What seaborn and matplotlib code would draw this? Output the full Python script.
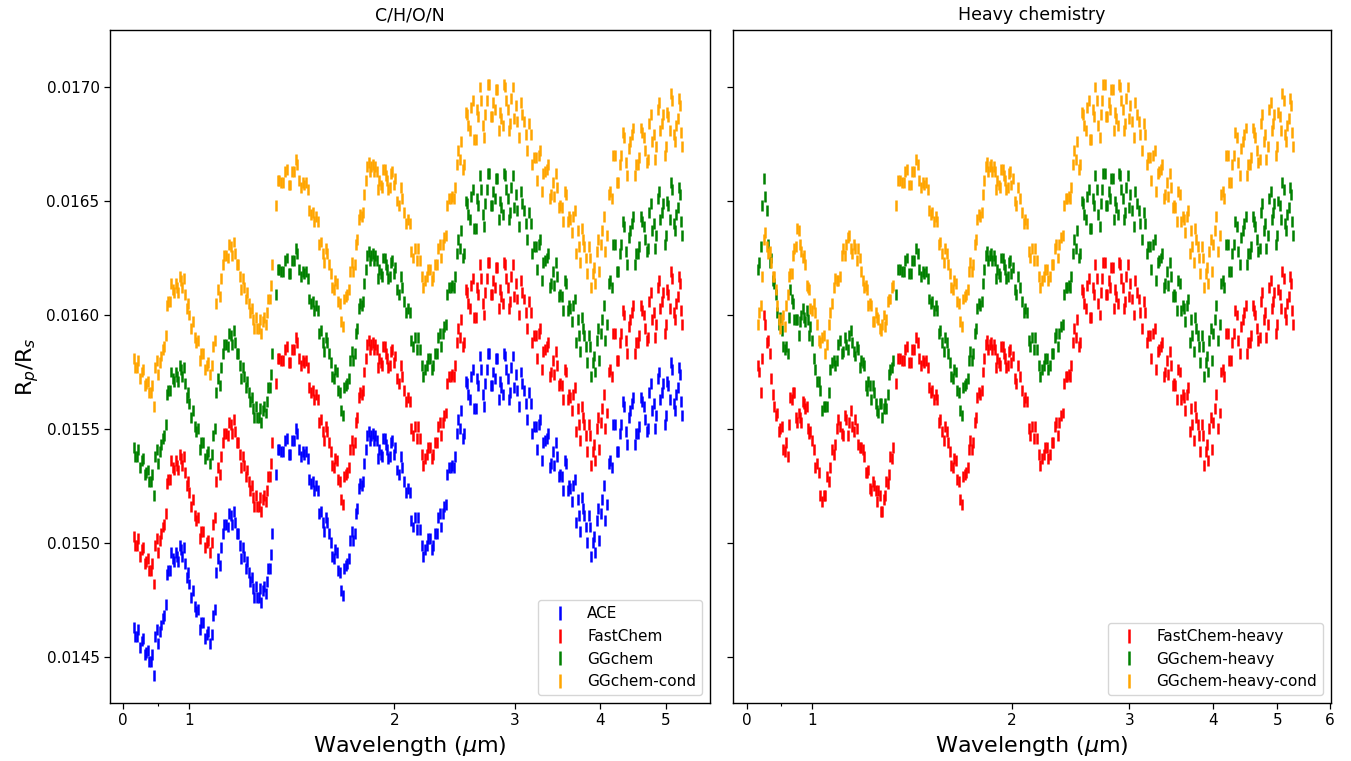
import matplotlib
matplotlib.use("Agg")
import matplotlib.pyplot as plt
import pandas as pd
import seaborn as sns
from matplotlib.ticker import FixedLocator, NullFormatter

# ---------------- data ----------------
# two interleaved wavelength samplings of the spectra (um)
wavelength = [
    0.830, 0.839, 0.848, 0.857, 0.866, 0.875, 0.884, 0.893, 0.902, 0.911,
    0.920, 0.929, 0.938, 0.947, 0.956, 0.965, 0.974, 0.983, 0.992,
    1.001, 1.013, 1.025, 1.037, 1.049, 1.061, 1.073, 1.085, 1.097, 1.109,
    1.121, 1.133, 1.145, 1.157, 1.169, 1.181, 1.193, 1.205, 1.217, 1.229,
    1.241, 1.253, 1.265, 1.277, 1.289, 1.301, 1.313, 1.325,
    1.340, 1.357, 1.374, 1.391, 1.408, 1.425, 1.442, 1.459, 1.476, 1.493,
    1.510, 1.527, 1.544, 1.561, 1.578, 1.595, 1.612, 1.629, 1.646, 1.663,
    1.680, 1.697, 1.714, 1.731, 1.748, 1.765, 1.782, 1.799, 1.816, 1.833,
    1.850, 1.867, 1.884, 1.901, 1.918, 1.935, 1.952, 1.969, 1.986,
    2.005, 2.030, 2.055, 2.080, 2.105, 2.130, 2.155, 2.180, 2.205, 2.230,
    2.255, 2.280, 2.305, 2.330, 2.355, 2.380, 2.405, 2.430, 2.455, 2.480,
    2.505, 2.530, 2.555, 2.580, 2.605, 2.630, 2.655, 2.680, 2.705, 2.730,
    2.755, 2.780, 2.805, 2.830, 2.855, 2.880, 2.905, 2.930, 2.955, 2.980,
    3.010, 3.045, 3.080, 3.115, 3.150, 3.185, 3.220, 3.255, 3.290, 3.325,
    3.360, 3.395, 3.430, 3.465, 3.500, 3.535, 3.570, 3.605, 3.640, 3.675,
    3.710, 3.745, 3.780, 3.815, 3.850, 3.885, 3.920, 3.955, 3.990,
    4.030, 4.075, 4.120, 4.165, 4.210, 4.255, 4.300, 4.345, 4.390, 4.435,
    4.480, 4.525, 4.570, 4.615, 4.660, 4.705, 4.750, 4.795, 4.840, 4.885,
    4.930, 4.975, 5.020, 5.065, 5.110, 5.155, 5.200, 5.245, 5.280,
]
wavelength_b = [
    0.834, 0.843, 0.852, 0.861, 0.870, 0.879, 0.888, 0.897, 0.906, 0.915,
    0.924, 0.933, 0.942, 0.951, 0.960, 0.969, 0.978, 0.987, 0.996,
    1.007, 1.019, 1.031, 1.043, 1.055, 1.067, 1.079, 1.091, 1.103, 1.115,
    1.127, 1.139, 1.151, 1.163, 1.175, 1.187, 1.199, 1.211, 1.223, 1.235,
    1.247, 1.259, 1.271, 1.283, 1.295, 1.307, 1.319,
    1.348, 1.365, 1.382, 1.399, 1.416, 1.433, 1.450, 1.467, 1.484, 1.501,
    1.518, 1.535, 1.552, 1.569, 1.586, 1.603, 1.620, 1.637, 1.654, 1.671,
    1.688, 1.705, 1.722, 1.739, 1.756, 1.773, 1.790, 1.807, 1.824, 1.841,
    1.858, 1.875, 1.892, 1.909, 1.926, 1.943, 1.960, 1.977, 1.995,
    2.017, 2.042, 2.067, 2.092, 2.117, 2.142, 2.167, 2.192, 2.217, 2.242,
    2.267, 2.292, 2.317, 2.342, 2.367, 2.392, 2.417, 2.442, 2.467, 2.492,
    2.517, 2.542, 2.567, 2.592, 2.617, 2.642, 2.667, 2.692, 2.717, 2.742,
    2.767, 2.792, 2.817, 2.842, 2.867, 2.892, 2.917, 2.942, 2.967, 2.995,
    3.027, 3.062, 3.097, 3.132, 3.167, 3.202, 3.237, 3.272, 3.307, 3.342,
    3.377, 3.412, 3.447, 3.482, 3.517, 3.552, 3.587, 3.622, 3.657, 3.692,
    3.727, 3.762, 3.797, 3.832, 3.867, 3.902, 3.937, 3.972, 4.010,
    4.052, 4.097, 4.142, 4.187, 4.232, 4.277, 4.322, 4.367, 4.412, 4.457,
    4.502, 4.547, 4.592, 4.637, 4.682, 4.727, 4.772, 4.817, 4.862, 4.907,
    4.952, 4.997, 5.042, 5.087, 5.132, 5.177, 5.222, 5.262,
]

ace = [
    0.01463, 0.01459, 0.01454, 0.01458, 0.01452, 0.01448, 0.01451, 0.01459, 0.01456, 0.01464,
    0.01468, 0.01486, 0.01488, 0.01493, 0.01496, 0.01492, 0.01497, 0.01498, 0.01485,
    0.01482, 0.01479, 0.01470, 0.01462, 0.01465, 0.01460, 0.01456, 0.01468, 0.01487, 0.01490,
    0.01504, 0.01508, 0.01513, 0.01508, 0.01509, 0.01504, 0.01493, 0.01494, 0.01492, 0.01483,
    0.01480, 0.01481, 0.01476, 0.01474, 0.01481, 0.01483, 0.01489, 0.01504,
    0.01530, 0.01541, 0.01540, 0.01546, 0.01539, 0.01545, 0.01548, 0.01538, 0.01539, 0.01537,
    0.01526, 0.01523, 0.01523, 0.01514, 0.01505, 0.01509, 0.01500, 0.01493, 0.01496, 0.01487,
    0.01477, 0.01490, 0.01493, 0.01505, 0.01504, 0.01515, 0.01526, 0.01527, 0.01541, 0.01549,
    0.01547, 0.01545, 0.01545, 0.01541, 0.01538, 0.01546, 0.01541, 0.01538, 0.01545,
    0.01542, 0.01530, 0.01533, 0.01522, 0.01522, 0.01507, 0.01506, 0.01506, 0.01494, 0.01499,
    0.01502, 0.01499, 0.01504, 0.01513, 0.01513, 0.01517, 0.01533, 0.01534, 0.01538, 0.01554,
    0.01558, 0.01548, 0.01570, 0.01563, 0.01576, 0.01559, 0.01569, 0.01576, 0.01560, 0.01576,
    0.01583, 0.01569, 0.01572, 0.01581, 0.01571, 0.01565, 0.01582, 0.01572, 0.01566, 0.01582,
    0.01574, 0.01560, 0.01570, 0.01561, 0.01566, 0.01548, 0.01551, 0.01552, 0.01536, 0.01545,
    0.01548, 0.01535, 0.01534, 0.01538, 0.01530, 0.01523, 0.01535, 0.01525, 0.01518, 0.01528,
    0.01519, 0.01505, 0.01515, 0.01507, 0.01512, 0.01494, 0.01503, 0.01510, 0.01501,
    0.01519, 0.01510, 0.01535, 0.01533, 0.01552, 0.01540, 0.01552, 0.01560, 0.01543, 0.01558,
    0.01564, 0.01548, 0.01551, 0.01562, 0.01554, 0.01550, 0.01570, 0.01561, 0.01556, 0.01575,
    0.01566, 0.01552, 0.01571, 0.01563, 0.01576, 0.01558, 0.01568, 0.01574, 0.01556,
]
ace_b = [
    0.01459, 0.01462, 0.01457, 0.01451, 0.01453, 0.01448, 0.01442, 0.01462, 0.01461, 0.01467,
    0.01473, 0.01488, 0.01496, 0.01492, 0.01494, 0.01499, 0.01494, 0.01491, 0.01487,
    0.01476, 0.01472, 0.01471, 0.01465, 0.01458, 0.01461, 0.01460, 0.01471, 0.01493, 0.01498,
    0.01508, 0.01507, 0.01512, 0.01514, 0.01504, 0.01499, 0.01498, 0.01489, 0.01487, 0.01485,
    0.01476, 0.01476, 0.01480, 0.01479, 0.01478, 0.01489, 0.01495,
    0.01541, 0.01540, 0.01545, 0.01539, 0.01545, 0.01550, 0.01541, 0.01540, 0.01540, 0.01528,
    0.01527, 0.01525, 0.01513, 0.01509, 0.01511, 0.01504, 0.01494, 0.01497, 0.01488, 0.01479,
    0.01489, 0.01491, 0.01501, 0.01501, 0.01513, 0.01524, 0.01525, 0.01535, 0.01547, 0.01545,
    0.01548, 0.01547, 0.01537, 0.01539, 0.01546, 0.01543, 0.01537, 0.01544, 0.01539,
    0.01532, 0.01538, 0.01527, 0.01524, 0.01510, 0.01511, 0.01511, 0.01499, 0.01497, 0.01502,
    0.01497, 0.01504, 0.01511, 0.01507, 0.01516, 0.01530, 0.01533, 0.01533, 0.01548, 0.01550,
    0.01546, 0.01571, 0.01565, 0.01573, 0.01559, 0.01572, 0.01582, 0.01565, 0.01570, 0.01583,
    0.01569, 0.01575, 0.01581, 0.01563, 0.01568, 0.01583, 0.01576, 0.01563, 0.01577, 0.01568,
    0.01567, 0.01575, 0.01567, 0.01554, 0.01561, 0.01551, 0.01541, 0.01554, 0.01544, 0.01546,
    0.01533, 0.01540, 0.01544, 0.01529, 0.01529, 0.01536, 0.01523, 0.01524, 0.01525, 0.01509,
    0.01512, 0.01520, 0.01512, 0.01500, 0.01507, 0.01500, 0.01496, 0.01515, 0.01513,
    0.01525, 0.01517, 0.01536, 0.01552, 0.01540, 0.01548, 0.01562, 0.01549, 0.01555, 0.01561,
    0.01543, 0.01548, 0.01564, 0.01560, 0.01549, 0.01566, 0.01558, 0.01550, 0.01572, 0.01563,
    0.01570, 0.01556, 0.01569, 0.01579, 0.01561, 0.01565, 0.01577, 0.01562,
]

fastchem = [
    0.01503, 0.01499, 0.01494, 0.01498, 0.01492, 0.01488, 0.01491, 0.01499, 0.01496, 0.01504,
    0.01508, 0.01526, 0.01528, 0.01533, 0.01536, 0.01532, 0.01537, 0.01538, 0.01525,
    0.01522, 0.01519, 0.01510, 0.01502, 0.01505, 0.01500, 0.01496, 0.01508, 0.01527, 0.01530,
    0.01544, 0.01548, 0.01553, 0.01548, 0.01549, 0.01544, 0.01533, 0.01534, 0.01532, 0.01523,
    0.01520, 0.01521, 0.01516, 0.01514, 0.01521, 0.01523, 0.01529, 0.01544,
    0.01570, 0.01581, 0.01580, 0.01586, 0.01579, 0.01585, 0.01588, 0.01578, 0.01579, 0.01577,
    0.01566, 0.01563, 0.01563, 0.01554, 0.01545, 0.01549, 0.01540, 0.01533, 0.01536, 0.01527,
    0.01517, 0.01530, 0.01533, 0.01545, 0.01544, 0.01555, 0.01566, 0.01567, 0.01581, 0.01589,
    0.01587, 0.01585, 0.01585, 0.01581, 0.01578, 0.01586, 0.01581, 0.01578, 0.01585,
    0.01582, 0.01570, 0.01573, 0.01562, 0.01562, 0.01547, 0.01546, 0.01546, 0.01534, 0.01539,
    0.01542, 0.01539, 0.01544, 0.01553, 0.01553, 0.01557, 0.01573, 0.01574, 0.01578, 0.01594,
    0.01598, 0.01588, 0.01610, 0.01603, 0.01616, 0.01599, 0.01609, 0.01616, 0.01600, 0.01616,
    0.01623, 0.01609, 0.01612, 0.01621, 0.01611, 0.01605, 0.01622, 0.01612, 0.01606, 0.01622,
    0.01614, 0.01600, 0.01610, 0.01601, 0.01606, 0.01588, 0.01591, 0.01592, 0.01576, 0.01585,
    0.01588, 0.01575, 0.01574, 0.01578, 0.01570, 0.01563, 0.01575, 0.01565, 0.01558, 0.01568,
    0.01559, 0.01545, 0.01555, 0.01547, 0.01552, 0.01534, 0.01543, 0.01550, 0.01541,
    0.01559, 0.01550, 0.01575, 0.01573, 0.01592, 0.01580, 0.01592, 0.01600, 0.01583, 0.01598,
    0.01604, 0.01588, 0.01591, 0.01602, 0.01594, 0.01590, 0.01610, 0.01601, 0.01596, 0.01615,
    0.01606, 0.01592, 0.01611, 0.01603, 0.01616, 0.01598, 0.01608, 0.01614, 0.01596,
]
fastchem_b = [
    0.01499, 0.01502, 0.01497, 0.01491, 0.01493, 0.01488, 0.01482, 0.01502, 0.01501, 0.01507,
    0.01513, 0.01528, 0.01536, 0.01532, 0.01534, 0.01539, 0.01534, 0.01531, 0.01527,
    0.01516, 0.01512, 0.01511, 0.01505, 0.01498, 0.01501, 0.01500, 0.01511, 0.01533, 0.01538,
    0.01548, 0.01547, 0.01552, 0.01554, 0.01544, 0.01539, 0.01538, 0.01529, 0.01527, 0.01525,
    0.01516, 0.01516, 0.01520, 0.01519, 0.01518, 0.01529, 0.01535,
    0.01581, 0.01580, 0.01585, 0.01579, 0.01585, 0.01590, 0.01581, 0.01580, 0.01580, 0.01568,
    0.01567, 0.01565, 0.01553, 0.01549, 0.01551, 0.01544, 0.01534, 0.01537, 0.01528, 0.01519,
    0.01529, 0.01531, 0.01541, 0.01541, 0.01553, 0.01564, 0.01565, 0.01575, 0.01587, 0.01585,
    0.01588, 0.01587, 0.01577, 0.01579, 0.01586, 0.01583, 0.01577, 0.01584, 0.01579,
    0.01572, 0.01578, 0.01567, 0.01564, 0.01550, 0.01551, 0.01551, 0.01539, 0.01537, 0.01542,
    0.01537, 0.01544, 0.01551, 0.01547, 0.01556, 0.01570, 0.01573, 0.01573, 0.01588, 0.01590,
    0.01586, 0.01611, 0.01605, 0.01613, 0.01599, 0.01612, 0.01622, 0.01605, 0.01610, 0.01623,
    0.01609, 0.01615, 0.01621, 0.01603, 0.01608, 0.01623, 0.01616, 0.01603, 0.01617, 0.01608,
    0.01607, 0.01615, 0.01607, 0.01594, 0.01601, 0.01591, 0.01581, 0.01594, 0.01584, 0.01586,
    0.01573, 0.01580, 0.01584, 0.01569, 0.01569, 0.01576, 0.01563, 0.01564, 0.01565, 0.01549,
    0.01552, 0.01560, 0.01552, 0.01540, 0.01547, 0.01540, 0.01536, 0.01555, 0.01553,
    0.01565, 0.01557, 0.01576, 0.01592, 0.01580, 0.01588, 0.01602, 0.01589, 0.01595, 0.01601,
    0.01583, 0.01588, 0.01604, 0.01600, 0.01589, 0.01606, 0.01598, 0.01590, 0.01612, 0.01603,
    0.01610, 0.01596, 0.01609, 0.01619, 0.01601, 0.01605, 0.01617, 0.01602,
]

ggchem = [
    0.01542, 0.01538, 0.01533, 0.01537, 0.01531, 0.01527, 0.01530, 0.01538, 0.01535, 0.01543,
    0.01547, 0.01565, 0.01567, 0.01572, 0.01575, 0.01571, 0.01576, 0.01577, 0.01564,
    0.01561, 0.01558, 0.01549, 0.01541, 0.01544, 0.01539, 0.01535, 0.01547, 0.01566, 0.01569,
    0.01583, 0.01587, 0.01592, 0.01587, 0.01588, 0.01583, 0.01572, 0.01573, 0.01571, 0.01562,
    0.01559, 0.01560, 0.01555, 0.01553, 0.01560, 0.01562, 0.01568, 0.01583,
    0.01609, 0.01620, 0.01619, 0.01625, 0.01618, 0.01624, 0.01627, 0.01617, 0.01618, 0.01616,
    0.01605, 0.01602, 0.01602, 0.01593, 0.01584, 0.01588, 0.01579, 0.01572, 0.01575, 0.01566,
    0.01556, 0.01569, 0.01572, 0.01584, 0.01583, 0.01594, 0.01605, 0.01606, 0.01620, 0.01628,
    0.01626, 0.01624, 0.01624, 0.01620, 0.01617, 0.01625, 0.01620, 0.01617, 0.01624,
    0.01621, 0.01609, 0.01612, 0.01601, 0.01601, 0.01586, 0.01585, 0.01585, 0.01573, 0.01578,
    0.01581, 0.01578, 0.01583, 0.01592, 0.01592, 0.01596, 0.01612, 0.01613, 0.01617, 0.01633,
    0.01637, 0.01627, 0.01649, 0.01642, 0.01655, 0.01638, 0.01648, 0.01655, 0.01639, 0.01655,
    0.01662, 0.01648, 0.01651, 0.01660, 0.01650, 0.01644, 0.01661, 0.01651, 0.01645, 0.01661,
    0.01653, 0.01639, 0.01649, 0.01640, 0.01645, 0.01627, 0.01630, 0.01631, 0.01615, 0.01624,
    0.01627, 0.01614, 0.01613, 0.01617, 0.01609, 0.01602, 0.01614, 0.01604, 0.01597, 0.01607,
    0.01598, 0.01584, 0.01594, 0.01586, 0.01591, 0.01573, 0.01582, 0.01589, 0.01580,
    0.01598, 0.01589, 0.01614, 0.01612, 0.01631, 0.01619, 0.01631, 0.01639, 0.01622, 0.01637,
    0.01643, 0.01627, 0.01630, 0.01641, 0.01633, 0.01629, 0.01649, 0.01640, 0.01635, 0.01654,
    0.01645, 0.01631, 0.01650, 0.01642, 0.01655, 0.01637, 0.01647, 0.01653, 0.01635,
]
ggchem_b = [
    0.01538, 0.01541, 0.01536, 0.01530, 0.01532, 0.01527, 0.01521, 0.01541, 0.01540, 0.01546,
    0.01552, 0.01567, 0.01575, 0.01571, 0.01573, 0.01578, 0.01573, 0.01570, 0.01566,
    0.01555, 0.01551, 0.01550, 0.01544, 0.01537, 0.01540, 0.01539, 0.01550, 0.01572, 0.01577,
    0.01587, 0.01586, 0.01591, 0.01593, 0.01583, 0.01578, 0.01577, 0.01568, 0.01566, 0.01564,
    0.01555, 0.01555, 0.01559, 0.01558, 0.01557, 0.01568, 0.01574,
    0.01620, 0.01619, 0.01624, 0.01618, 0.01624, 0.01629, 0.01620, 0.01619, 0.01619, 0.01607,
    0.01606, 0.01604, 0.01592, 0.01588, 0.01590, 0.01583, 0.01573, 0.01576, 0.01567, 0.01558,
    0.01568, 0.01570, 0.01580, 0.01580, 0.01592, 0.01603, 0.01604, 0.01614, 0.01626, 0.01624,
    0.01627, 0.01626, 0.01616, 0.01618, 0.01625, 0.01622, 0.01616, 0.01623, 0.01618,
    0.01611, 0.01617, 0.01606, 0.01603, 0.01589, 0.01590, 0.01590, 0.01578, 0.01576, 0.01581,
    0.01576, 0.01583, 0.01590, 0.01586, 0.01595, 0.01609, 0.01612, 0.01612, 0.01627, 0.01629,
    0.01625, 0.01650, 0.01644, 0.01652, 0.01638, 0.01651, 0.01661, 0.01644, 0.01649, 0.01662,
    0.01648, 0.01654, 0.01660, 0.01642, 0.01647, 0.01662, 0.01655, 0.01642, 0.01656, 0.01647,
    0.01646, 0.01654, 0.01646, 0.01633, 0.01640, 0.01630, 0.01620, 0.01633, 0.01623, 0.01625,
    0.01612, 0.01619, 0.01623, 0.01608, 0.01608, 0.01615, 0.01602, 0.01603, 0.01604, 0.01588,
    0.01591, 0.01599, 0.01591, 0.01579, 0.01586, 0.01579, 0.01575, 0.01594, 0.01592,
    0.01604, 0.01596, 0.01615, 0.01631, 0.01619, 0.01627, 0.01641, 0.01628, 0.01634, 0.01640,
    0.01622, 0.01627, 0.01643, 0.01639, 0.01628, 0.01645, 0.01637, 0.01629, 0.01651, 0.01642,
    0.01649, 0.01635, 0.01648, 0.01658, 0.01640, 0.01644, 0.01656, 0.01641,
]

ggchem_cond = [
    0.01581, 0.01577, 0.01572, 0.01576, 0.01570, 0.01566, 0.01569, 0.01577, 0.01574, 0.01582,
    0.01586, 0.01604, 0.01606, 0.01611, 0.01614, 0.01610, 0.01615, 0.01616, 0.01603,
    0.01600, 0.01597, 0.01588, 0.01580, 0.01583, 0.01578, 0.01574, 0.01586, 0.01605, 0.01608,
    0.01622, 0.01626, 0.01631, 0.01626, 0.01627, 0.01622, 0.01611, 0.01612, 0.01610, 0.01601,
    0.01598, 0.01599, 0.01594, 0.01592, 0.01599, 0.01601, 0.01607, 0.01622,
    0.01648, 0.01659, 0.01658, 0.01664, 0.01657, 0.01663, 0.01666, 0.01656, 0.01657, 0.01655,
    0.01644, 0.01641, 0.01641, 0.01632, 0.01623, 0.01627, 0.01618, 0.01611, 0.01614, 0.01605,
    0.01595, 0.01608, 0.01611, 0.01623, 0.01622, 0.01633, 0.01644, 0.01645, 0.01659, 0.01667,
    0.01665, 0.01663, 0.01663, 0.01659, 0.01656, 0.01664, 0.01659, 0.01656, 0.01663,
    0.01660, 0.01648, 0.01651, 0.01640, 0.01640, 0.01625, 0.01624, 0.01624, 0.01612, 0.01617,
    0.01620, 0.01617, 0.01622, 0.01631, 0.01631, 0.01635, 0.01651, 0.01652, 0.01656, 0.01672,
    0.01676, 0.01666, 0.01688, 0.01681, 0.01694, 0.01677, 0.01687, 0.01694, 0.01678, 0.01694,
    0.01701, 0.01687, 0.01690, 0.01699, 0.01689, 0.01683, 0.01700, 0.01690, 0.01684, 0.01700,
    0.01692, 0.01678, 0.01688, 0.01679, 0.01684, 0.01666, 0.01669, 0.01670, 0.01654, 0.01663,
    0.01666, 0.01653, 0.01652, 0.01656, 0.01648, 0.01641, 0.01653, 0.01643, 0.01636, 0.01646,
    0.01637, 0.01623, 0.01633, 0.01625, 0.01630, 0.01612, 0.01621, 0.01628, 0.01619,
    0.01637, 0.01628, 0.01653, 0.01651, 0.01670, 0.01658, 0.01670, 0.01678, 0.01661, 0.01676,
    0.01682, 0.01666, 0.01669, 0.01680, 0.01672, 0.01668, 0.01688, 0.01679, 0.01674, 0.01693,
    0.01684, 0.01670, 0.01689, 0.01681, 0.01694, 0.01676, 0.01686, 0.01692, 0.01674,
]
ggchem_cond_b = [
    0.01577, 0.01580, 0.01575, 0.01569, 0.01571, 0.01566, 0.01560, 0.01580, 0.01579, 0.01585,
    0.01591, 0.01606, 0.01614, 0.01610, 0.01612, 0.01617, 0.01612, 0.01609, 0.01605,
    0.01594, 0.01590, 0.01589, 0.01583, 0.01576, 0.01579, 0.01578, 0.01589, 0.01611, 0.01616,
    0.01626, 0.01625, 0.01630, 0.01632, 0.01622, 0.01617, 0.01616, 0.01607, 0.01605, 0.01603,
    0.01594, 0.01594, 0.01598, 0.01597, 0.01596, 0.01607, 0.01613,
    0.01659, 0.01658, 0.01663, 0.01657, 0.01663, 0.01668, 0.01659, 0.01658, 0.01658, 0.01646,
    0.01645, 0.01643, 0.01631, 0.01627, 0.01629, 0.01622, 0.01612, 0.01615, 0.01606, 0.01597,
    0.01607, 0.01609, 0.01619, 0.01619, 0.01631, 0.01642, 0.01643, 0.01653, 0.01665, 0.01663,
    0.01666, 0.01665, 0.01655, 0.01657, 0.01664, 0.01661, 0.01655, 0.01662, 0.01657,
    0.01650, 0.01656, 0.01645, 0.01642, 0.01628, 0.01629, 0.01629, 0.01617, 0.01615, 0.01620,
    0.01615, 0.01622, 0.01629, 0.01625, 0.01634, 0.01648, 0.01651, 0.01651, 0.01666, 0.01668,
    0.01664, 0.01689, 0.01683, 0.01691, 0.01677, 0.01690, 0.01700, 0.01683, 0.01688, 0.01701,
    0.01687, 0.01693, 0.01699, 0.01681, 0.01686, 0.01701, 0.01694, 0.01681, 0.01695, 0.01686,
    0.01685, 0.01693, 0.01685, 0.01672, 0.01679, 0.01669, 0.01659, 0.01672, 0.01662, 0.01664,
    0.01651, 0.01658, 0.01662, 0.01647, 0.01647, 0.01654, 0.01641, 0.01642, 0.01643, 0.01627,
    0.01630, 0.01638, 0.01630, 0.01618, 0.01625, 0.01618, 0.01614, 0.01633, 0.01631,
    0.01643, 0.01635, 0.01654, 0.01670, 0.01658, 0.01666, 0.01680, 0.01667, 0.01673, 0.01679,
    0.01661, 0.01666, 0.01682, 0.01678, 0.01667, 0.01684, 0.01676, 0.01668, 0.01690, 0.01681,
    0.01688, 0.01674, 0.01687, 0.01697, 0.01679, 0.01683, 0.01695, 0.01680,
]

# heavy-chemistry runs: values below 1.33 um differ, longer wavelengths coincide
fastchem_heavy_short = [
    0.01578, 0.01566, 0.01600, 0.01588, 0.01583, 0.01565, 0.01556, 0.01549, 0.01551, 0.01540,
    0.01538, 0.01564, 0.01566, 0.01555, 0.01557, 0.01553, 0.01561, 0.01560, 0.01548,
    0.01545, 0.01533, 0.01531, 0.01518, 0.01521, 0.01527, 0.01541, 0.01543, 0.01554, 0.01548,
    0.01556, 0.01547, 0.01558, 0.01549, 0.01550, 0.01542, 0.01541, 0.01531, 0.01532, 0.01523,
    0.01525, 0.01518, 0.01521, 0.01514, 0.01521, 0.01526, 0.01538, 0.01542,
]
fastchem_heavy_short_b = [
    0.01575, 0.01581, 0.01596, 0.01589, 0.01572, 0.01560, 0.01557, 0.01550, 0.01541, 0.01544,
    0.01552, 0.01563, 0.01566, 0.01553, 0.01555, 0.01562, 0.01559, 0.01550, 0.01549,
    0.01541, 0.01535, 0.01521, 0.01521, 0.01529, 0.01533, 0.01539, 0.01550, 0.01551, 0.01547,
    0.01554, 0.01553, 0.01551, 0.01554, 0.01543, 0.01542, 0.01538, 0.01531, 0.01524, 0.01527,
    0.01523, 0.01523, 0.01514, 0.01519, 0.01527, 0.01530, 0.01537,
]
ggchem_heavy_short = [
    0.01620, 0.01630, 0.01660, 0.01646, 0.01623, 0.01615, 0.01609, 0.01596, 0.01593, 0.01585,
    0.01583, 0.01611, 0.01605, 0.01598, 0.01591, 0.01600, 0.01599, 0.01602, 0.01591,
    0.01589, 0.01576, 0.01571, 0.01558, 0.01560, 0.01566, 0.01579, 0.01578, 0.01587, 0.01583,
    0.01590, 0.01585, 0.01593, 0.01584, 0.01586, 0.01577, 0.01579, 0.01569, 0.01571, 0.01563,
    0.01566, 0.01558, 0.01561, 0.01555, 0.01561, 0.01565, 0.01576, 0.01580,
]
ggchem_heavy_short_b = [
    0.01623, 0.01648, 0.01652, 0.01631, 0.01625, 0.01614, 0.01601, 0.01599, 0.01586, 0.01586,
    0.01599, 0.01607, 0.01598, 0.01598, 0.01597, 0.01603, 0.01597, 0.01598, 0.01595,
    0.01581, 0.01571, 0.01567, 0.01560, 0.01560, 0.01576, 0.01580, 0.01580, 0.01589, 0.01584,
    0.01587, 0.01591, 0.01588, 0.01582, 0.01585, 0.01580, 0.01578, 0.01567, 0.01569, 0.01569,
    0.01561, 0.01557, 0.01561, 0.01559, 0.01559, 0.01574, 0.01577,
]
ggchem_heavy_cond_short = [
    0.01596, 0.01604, 0.01633, 0.01630, 0.01628, 0.01617, 0.01611, 0.01598, 0.01598, 0.01595,
    0.01609, 0.01618, 0.01626, 0.01630, 0.01637, 0.01628, 0.01626, 0.01613, 0.01611,
    0.01602, 0.01601, 0.01589, 0.01590, 0.01583, 0.01596, 0.01605, 0.01616, 0.01615, 0.01626,
    0.01626, 0.01634, 0.01629, 0.01631, 0.01624, 0.01625, 0.01615, 0.01613, 0.01604, 0.01604,
    0.01597, 0.01599, 0.01594, 0.01596, 0.01595, 0.01606, 0.01607, 0.01613,
]
ggchem_heavy_cond_short_b = [
    0.01601, 0.01617, 0.01636, 0.01627, 0.01623, 0.01617, 0.01604, 0.01594, 0.01600, 0.01604,
    0.01617, 0.01618, 0.01629, 0.01638, 0.01631, 0.01625, 0.01622, 0.01612, 0.01603,
    0.01605, 0.01596, 0.01588, 0.01591, 0.01587, 0.01601, 0.01612, 0.01615, 0.01617, 0.01629,
    0.01631, 0.01635, 0.01627, 0.01629, 0.01629, 0.01619, 0.01612, 0.01611, 0.01605, 0.01597,
    0.01601, 0.01598, 0.01593, 0.01600, 0.01598, 0.01607, 0.01612,
]
n_short = len(fastchem_heavy_short)
n_short_b = len(fastchem_heavy_short_b)
fastchem_heavy = fastchem_heavy_short + fastchem[n_short:]
fastchem_heavy_b = fastchem_heavy_short_b + fastchem_b[n_short_b:]
ggchem_heavy = ggchem_heavy_short + ggchem[n_short:]
ggchem_heavy_b = ggchem_heavy_short_b + ggchem_b[n_short_b:]
ggchem_heavy_cond = ggchem_heavy_cond_short + ggchem_cond[n_short:]
ggchem_heavy_cond_b = ggchem_heavy_cond_short_b + ggchem_cond_b[n_short_b:]

left_models = ["ACE", "FastChem", "GGchem", "GGchem-cond"]
left_values = [(ace, ace_b), (fastchem, fastchem_b), (ggchem, ggchem_b),
               (ggchem_cond, ggchem_cond_b)]
left_colors = ["blue", "red", "green", "orange"]

right_models = ["FastChem-heavy", "GGchem-heavy", "GGchem-heavy-cond"]
right_values = [(fastchem_heavy, fastchem_heavy_b), (ggchem_heavy, ggchem_heavy_b),
                (ggchem_heavy_cond, ggchem_heavy_cond_b)]
right_colors = ["red", "green", "orange"]

panel_titles = ["C/H/O/N", "Heavy chemistry"]
x_tick_values_left = [0.8, 1, 2, 3, 4, 5]
x_tick_labels_left = ["0", "1", "2", "3", "4", "5"]
x_tick_values_right = [0.8, 1, 2, 3, 4, 5, 6]
x_tick_labels_right = ["0", "1", "2", "3", "4", "5", "6"]
y_tick_values = [0.0145, 0.0150, 0.0155, 0.0160, 0.0165, 0.0170]

# ---------------- style ----------------
sns.set_style("ticks")
plt.rcParams["font.family"] = ["DejaVu Sans"]
plt.rcParams["axes.edgecolor"] = "black"
plt.rcParams["xtick.color"] = "black"
plt.rcParams["ytick.color"] = "black"
plt.rcParams["text.color"] = "black"
plt.rcParams["axes.labelcolor"] = "black"


def long_frame(models, values):
    frames = []
    for name, (vals_a, vals_b) in zip(models, values):
        frames.append(pd.DataFrame({"wavelength": wavelength + wavelength_b,
                                    "rp_rs": vals_a + vals_b,
                                    "model": name}))
    return pd.concat(frames, ignore_index=True)


fig = plt.figure(figsize=(13.51, 7.61), dpi=100)
ax1 = fig.add_axes([110 / 1351, 58 / 761, 600 / 1351, 673 / 761])
ax2 = fig.add_axes([733 / 1351, 58 / 761, 598 / 1351, 673 / 761], sharey=ax1)

panels = [
    (ax1, left_models, left_values, left_colors, x_tick_values_left, x_tick_labels_left, (0.766, 5.80)),
    (ax2, right_models, right_values, right_colors, x_tick_values_right, x_tick_labels_right, (0.762, 6.02)),
]

for i, (ax, models, values, colors, xt, xtl, xlim) in enumerate(panels):
    df = long_frame(models, values)
    sns.scatterplot(data=df, x="wavelength", y="rp_rs", hue="model",
                    hue_order=models, palette=dict(zip(models, colors)),
                    marker="|", s=62, linewidth=1.8, ax=ax, legend=True)
    ax.set_xscale("log")
    ax.set_xlim(*xlim)
    ax.xaxis.set_major_locator(FixedLocator(xt))
    ax.set_xticklabels(xtl)
    ax.xaxis.set_minor_locator(FixedLocator([0.9]))
    ax.xaxis.set_minor_formatter(NullFormatter())
    ax.tick_params(axis="both", which="major", labelsize=11, length=4, width=0.9)
    ax.tick_params(axis="x", which="minor", length=2.5, width=0.8)
    ax.set_xlabel(r"Wavelength ($\mu$m)", fontsize=16)
    ax.set_title(panel_titles[i], fontsize=12.5, pad=7)
    for sp in ax.spines.values():
        sp.set_visible(True)
        sp.set_linewidth(1.0)
        sp.set_color("black")
    leg = ax.get_legend()
    handles = leg.legend_handles
    labels = [t.get_text() for t in leg.get_texts()]
    ax.legend(handles, labels, loc="lower right", fontsize=11, frameon=True,
              markerscale=1.2)

ax1.set_ylim(0.014298, 0.01725)
ax1.set_yticks(y_tick_values)
ax1.set_yticklabels([f"{v:.4f}" for v in y_tick_values])
ax1.set_ylabel(r"R$_p$/R$_s$", fontsize=16)
ax2.set_ylabel("")
ax2.tick_params(axis="y", labelleft=False)

fig.savefig("out.png", dpi=100)
